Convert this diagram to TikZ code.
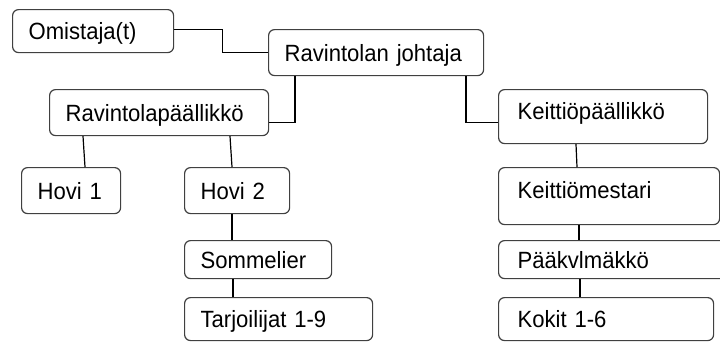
\documentclass[tikz,border=0pt]{standalone}
\usepackage{fontspec}
\setmainfont{Liberation Sans}[FakeStretch=0.94]
\begin{document}
\begin{tikzpicture}[x=1pt,y=-1pt,
  box/.style={draw=black!75, line width=1.2pt, rounded corners=6pt, anchor=north west,
    inner ysep=0pt, inner xsep=16pt, text height=17pt, text depth=0pt,
    font=\fontsize{23.5}{27}\selectfont, text=black},
  rbox/.style={box, inner xsep=19pt},
  upper/.style={text height=17pt, text depth=12pt},
  conn/.style={draw=black, line width=1.2pt}]
\useasboundingbox (0,0) rectangle (720,341);
% nodes: text width = W - 2*xsep
\node[box, text width=129pt, minimum height=43pt] (om) at (12,9) {Omistaja(t)};
\node[box, text width=183pt, minimum height=46pt] (rj) at (268,29) {Ravintolan johtaja};
\node[box, text width=187pt, minimum height=46pt] (rp) at (49,89) {Ravintolapäällikkö};
\node[rbox, upper, text width=171pt, minimum height=54pt] (kp) at (498,89) {Keittiöpäällikkö};
\node[box, text width=67pt, minimum height=46pt] (h1) at (21,167) {Hovi 1};
\node[box, text width=73pt, minimum height=46pt] (h2) at (184,167) {Hovi 2};
\node[box, text width=115pt, minimum height=38pt] (som) at (184,240) {Sommelier};
\node[box, text width=156pt, minimum height=43pt] (tar) at (184,297) {Tarjoilijat 1-9};
\node[rbox, upper, text width=183pt, minimum height=57pt] (km) at (498,167) {Keittiömestari};
\node[rbox, text width=200pt, minimum height=38pt] (pk) at (498,240) {Pääkvlmäkkö};
\node[rbox, text width=177pt, minimum height=43pt] (kok) at (498,297) {Kokit 1-6};
% connectors
\draw[conn] ([yshift=2pt]om.east) -- ++(48,0) |- (rj.west);
\draw[conn] ([xshift=27pt]rj.south west) |- ([yshift=-10pt]rp.east);
\draw[conn] ([xshift=198pt]rj.south west) |- ([yshift=-6pt]kp.west);
\draw[conn] ([xshift=34pt]rp.south west) -- ([xshift=64pt]h1.north west);
\draw[conn] ([xshift=181pt]rp.south west) -- ([xshift=48pt]h2.north west);
\draw[conn] ([xshift=78pt]kp.south west) -- ([xshift=79pt]km.north west);
\draw[conn] ([xshift=48pt]h2.south west) -- ([xshift=48pt]som.north west);
\draw[conn] ([xshift=49pt]som.south west) -- ([xshift=49pt]tar.north west);
\draw[conn] ([xshift=81pt]km.south west) -- ([xshift=81pt]pk.north west);
\draw[conn] ([xshift=82pt]pk.south west) -- ([xshift=82pt]kok.north west);
\end{tikzpicture}
\end{document}
